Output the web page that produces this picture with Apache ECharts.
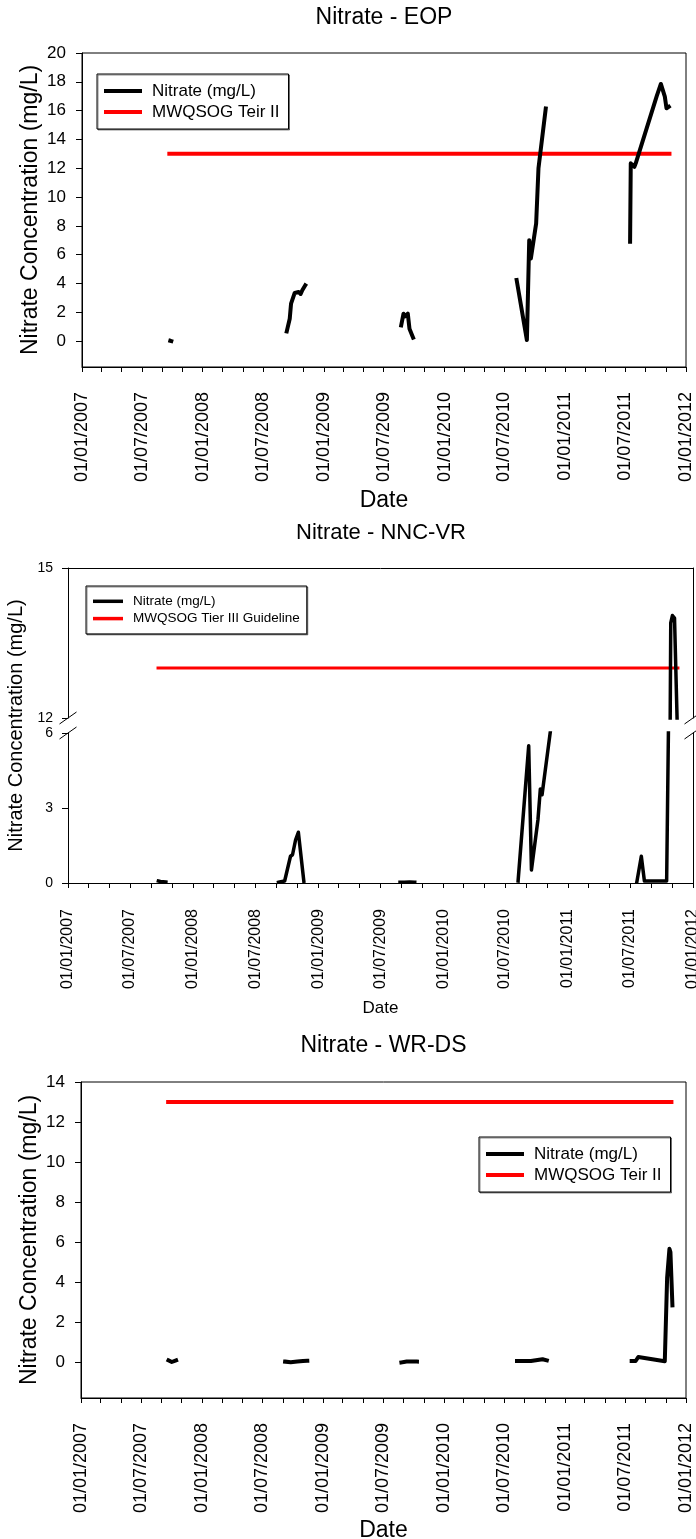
<!DOCTYPE html>
<html>
<head>
<meta charset="utf-8">
<script src="https://cdn.jsdelivr.net/npm/echarts@6/dist/echarts.min.js"></script>
<style>
  html, body { margin: 0; padding: 0; background: #fff; }
  #chart { width: 696px; height: 1539px; }
</style>
</head>
<body>
<div id="chart"></div>
<script>
const FONT = '"Liberation Sans", Arial, sans-serif';

// shared date axis
const xStart = '2007-01-01';
const xEnd = '2012-01-01';
const xTickDates = ['2007-01-01', '2007-07-01', '2008-01-01', '2008-07-01', '2009-01-01', '2009-07-01',
    '2010-01-01', '2010-07-01', '2011-01-01', '2011-07-01', '2012-01-01'];
const xTickLabels = ['01/01/2007', '01/07/2007', '01/01/2008', '01/07/2008', '01/01/2009', '01/07/2009',
    '01/01/2010', '01/07/2010', '01/01/2011', '01/07/2011', '01/01/2012'];

// y ticks
const eopYTicks = [0, 2, 4, 6, 8, 10, 12, 14, 16, 18, 20];
const nncUpperTicks = [12, 15];
const nncLowerTicks = [0, 3, 6];
const wrYTicks = [0, 2, 4, 6, 8, 10, 12, 14];

const guideline = 13;

// Nitrate - EOP (one list per sampling season)
const eopDates = [
    ['2007-09-25', '2007-09-28'],
    ['2008-09-11', '2008-09-20', '2008-09-24', '2008-09-28', '2008-10-05', '2008-10-17', '2008-10-23', '2008-10-28', '2008-11-02', '2008-11-06'],
    ['2009-08-23', '2009-08-30', '2009-09-04', '2009-09-12', '2009-09-17', '2009-09-28'],
    ['2010-08-07', '2010-09-07', '2010-09-14', '2010-09-19', '2010-10-05', '2010-10-12', '2010-11-03'],
    ['2011-07-16', '2011-07-18', '2011-07-29', '2011-08-02', '2011-10-04', '2011-10-17', '2011-10-29', '2011-11-03', '2011-11-10'],
];
const eopValues = [
    [0.02, 0.0],
    [0.67, 1.55, 2.6, 2.48, 3.34, 3.41, 3.27, 3.53, 3.48, 3.87],
    [1.09, 1.9, 1.72, 1.9, 0.86, 0.23],
    [4.24, 0.07, 7.0, 5.74, 8.17, 12.0, 16.15],
    [6.9, 12.34, 12.1, 12.34, 16.97, 17.85, 16.97, 16.16, 16.27],
];
const eopGuideDates = ['2007-09-22', '2011-11-12'];

// Nitrate - NNC-VR
const nncDates = [
    ['2007-09-22', '2007-09-28', '2007-10-14'],
    ['2008-09-07', '2008-09-25', '2008-10-12', '2008-10-18', '2008-10-27', '2008-11-04', '2008-11-20'],
    ['2009-08-28', '2009-09-10', '2009-09-25', '2009-10-10'],
    ['2010-08-08', '2010-09-08', '2010-09-16', '2010-10-05', '2010-10-12', '2010-10-17', '2010-11-13'],
    ['2011-07-21', '2011-08-03', '2011-08-12', '2011-10-16', '2011-10-28', '2011-11-02', '2011-11-08', '2011-11-21'],
];
const nncValues = [
    [0.08, 0.06, 0.04],
    [0.03, 0.08, 1.07, 1.13, 1.73, 2.03, 0.07],
    [0.03, 0.03, 0.04, 0.03],
    [0.08, 5.49, 0.52, 2.53, 3.76, 3.53, 6.35],
    [0.05, 1.07, 0.08, 0.08, 13.9, 14.05, 14.0, 10.5],
];
const nncGuideDates = ['2007-09-21', '2011-11-18'];

// Nitrate - WR-DS
const wrDates = [
    ['2007-09-22', '2007-10-02', '2007-10-15'],
    ['2008-09-08', '2008-09-25', '2008-10-15', '2008-11-01', '2008-11-14'],
    ['2009-08-25', '2009-09-10', '2009-09-25', '2009-10-11'],
    ['2010-08-09', '2010-09-01', '2010-09-20', '2010-10-10', '2010-10-25', '2010-11-07'],
    ['2011-07-21', '2011-08-02', '2011-08-10', '2011-10-29', '2011-11-05', '2011-11-12', '2011-11-15', '2011-11-21'],
];
const wrValues = [
    [0.08, 0.0, 0.08],
    [0.02, -0.01, 0.02, 0.05, 0.06],
    [-0.02, 0.02, 0.03, 0.02],
    [0.05, 0.05, 0.05, 0.1, 0.14, 0.08],
    [0.05, 0.05, 0.25, 0.04, 4.2, 5.66, 5.5, 2.83],
];
const wrGuideDates = ['2007-09-21', '2011-11-18'];

const ts = s => {
    const [y, m, d] = s.split('-').map(Number);
    return new Date(y, m - 1, d).getTime();
};
const xTickTs = xTickDates.map(ts);
// small ticks every two months
const xMinorTicks = [];
for (let y = 2007; y <= 2011; y++) {
    for (let m = 0; m < 12; m += 2) xMinorTicks.push(new Date(y, m, 1).getTime());
}
xMinorTicks.push(ts(xEnd));

const seasons = (dates, values) => {
    const out = [];
    dates.forEach((seg, i) => {
        if (i > 0) out.push([ts(seg[0]) - 86400000, '-']);
        seg.forEach((d, j) => out.push([ts(d), values[i][j]]));
    });
    return out;
};
const guide = dates => dates.map(d => [ts(d), guideline]);

// dates are kept as timestamps on a plain value axis
const dateAxis = (gridIndex, o) => ({
    type: 'value',
    gridIndex,
    min: ts(xStart),
    max: ts(xEnd),
    position: o.position || 'bottom',
    axisLine: { show: true, onZero: false, lineStyle: { color: '#000', width: 1 } },
    axisTick: { show: o.labels, customValues: xMinorTicks, length: 5, lineStyle: { color: '#000' } },
    axisLabel: {
        show: o.labels,
        customValues: xTickTs,
        rotate: 90,
        margin: o.margin,
        color: '#000',
        fontSize: o.fontSize,
        fontFamily: FONT,
        formatter: v => xTickLabels[xTickTs.indexOf(v)] || '',
    },
    splitLine: { show: false },
    name: o.labels ? 'Date' : '',
    nameLocation: 'middle',
    nameGap: o.nameGap,
    nameMoveOverlap: false,
    nameTextStyle: { color: '#000', fontSize: o.nameSize, fontFamily: FONT },
});

const valueAxis = (gridIndex, o) => ({
    type: 'value',
    gridIndex,
    min: o.min,
    max: o.max,
    position: o.position || 'left',
    axisLine: { show: true, onZero: false, lineStyle: { color: '#000', width: 1 } },
    axisTick: { show: !!o.ticks, customValues: o.ticks, length: 6, lineStyle: { color: '#000' } },
    axisLabel: {
        show: !!o.ticks,
        customValues: o.ticks,
        margin: o.margin,
        color: '#000',
        fontSize: o.fontSize,
        fontFamily: FONT,
    },
    splitLine: { show: false },
    name: o.name || '',
    nameLocation: 'middle',
    nameGap: o.nameGap,
    nameMoveOverlap: false,
    nameTextStyle: { color: '#000', fontSize: o.nameSize, fontFamily: FONT },
});

const lineSeries = (name, color, width, x, y, data, z) => ({
    name,
    type: 'line',
    xAxisIndex: x,
    yAxisIndex: y,
    data,
    symbol: 'none',
    showSymbol: false,
    connectNulls: false,
    z,
    itemStyle: { color },
    lineStyle: { color, width, cap: 'square', join: 'round' },
    emphasis: { disabled: true },
    animation: false,
});

const legendBox = (left, top, o) => ({
    orient: 'vertical',
    left,
    top,
    data: o.data,
    icon: 'rect',
    itemWidth: o.itemWidth,
    itemHeight: o.itemHeight,
    itemGap: o.itemGap,
    padding: o.padding,
    backgroundColor: '#fff',
    borderColor: '#000',
    borderWidth: 1,
    borderRadius: 0,
    shadowColor: 'rgba(0,0,0,0.45)',
    shadowOffsetX: 1,
    shadowOffsetY: 1,
    selectedMode: false,
    textStyle: { color: '#000', fontSize: o.fontSize, lineHeight: o.lineHeight, fontFamily: FONT, padding: [0, 0, 0, 5] },
});

const titleText = (text, x, y, size) => ({
    type: 'text', x, y, silent: true,
    style: { text, fill: '#000', fontSize: size, fontFamily: FONT, align: 'center', verticalAlign: 'middle' },
});
const breakMark = (x, y) => ({
    type: 'line', silent: true,
    shape: { x1: x - 8.5, y1: y + 6, x2: x + 8.5, y2: y - 6 },
    style: { stroke: '#000', lineWidth: 1 },
});

// chart 2 (broken axis) layout
const g2 = { left: 68, width: 625, upperTop: 568, upperH: 150, lowerTop: 733, lowerH: 150 };

const chart = echarts.init(document.getElementById('chart'), null, { renderer: 'canvas' });

const option = {
    backgroundColor: '#fff',
    animation: false,
    grid: [
        { left: 82, top: 53, width: 604, height: 314, show: true, borderColor: '#000', borderWidth: 1, backgroundColor: 'transparent', containLabel: false, outerBoundsMode: 'none' },
        { left: g2.left, top: g2.upperTop, width: g2.width, height: g2.upperH, containLabel: false, outerBoundsMode: 'none' },
        { left: g2.left, top: g2.lowerTop, width: g2.width, height: g2.lowerH, containLabel: false, outerBoundsMode: 'none' },
        { left: 81, top: 1082, width: 605, height: 316, show: true, borderColor: '#000', borderWidth: 1, backgroundColor: 'transparent', containLabel: false, outerBoundsMode: 'none' },
    ],
    xAxis: [
        dateAxis(0, { labels: true, margin: 25, fontSize: 18, nameGap: 122, nameSize: 23 }),
        dateAxis(1, { labels: false, position: 'top' }),
        dateAxis(2, { labels: true, margin: 26, fontSize: 16, nameGap: 117, nameSize: 17 }),
        dateAxis(3, { labels: true, margin: 25, fontSize: 18, nameGap: 121, nameSize: 23 }),
    ],
    yAxis: [
        valueAxis(0, { min: -1.8, max: 20, ticks: eopYTicks, margin: 16, fontSize: 17, name: 'Nitrate Concentration (mg/L)', nameGap: 40, nameSize: 23 }),
        valueAxis(1, { min: 12, max: 15, ticks: nncUpperTicks, margin: 15, fontSize: 14 }),
        valueAxis(1, { min: 12, max: 15, position: 'right' }),
        valueAxis(2, { min: 0, max: 6, ticks: nncLowerTicks, margin: 15, fontSize: 14 }),
        valueAxis(2, { min: 0, max: 6, position: 'right' }),
        valueAxis(3, { min: -1.8, max: 14, ticks: wrYTicks, margin: 16, fontSize: 17, name: 'Nitrate Concentration (mg/L)', nameGap: 40, nameSize: 23 }),
    ],
    legend: [
        legendBox(97, 74, { data: ['Nitrate (mg/L)', 'MWQSOG Teir II'], itemWidth: 38, itemHeight: 4, itemGap: 2, padding: [7.5, 9, 7.5, 7], fontSize: 17, lineHeight: 19 }),
        legendBox(86, 586, { data: ['Nitrate (mg/L)', 'MWQSOG Tier III Guideline'], itemWidth: 30, itemHeight: 3.5, itemGap: 2.3, padding: [7.8, 7, 7.8, 7], fontSize: 13.5, lineHeight: 15 }),
        legendBox(479, 1137, { data: ['Nitrate (mg/L)', 'MWQSOG Teir II'], itemWidth: 38, itemHeight: 4, itemGap: 2, padding: [7.5, 9, 7.5, 7], fontSize: 17, lineHeight: 19 }),
    ],
    graphic: [
        titleText('Nitrate - EOP', 384, 18, 23),
        titleText('Nitrate - NNC-VR', 381, 533, 22),
        titleText('Nitrate - WR-DS', 383.5, 1046, 23),
        {
            type: 'text', x: 16, y: (g2.upperTop + g2.lowerTop + g2.lowerH) / 2, rotation: Math.PI / 2, silent: true,
            style: { text: 'Nitrate Concentration (mg/L)', fill: '#000', fontSize: 20, fontFamily: FONT, align: 'center', verticalAlign: 'middle' },
        },
        breakMark(g2.left, g2.upperTop + g2.upperH),
        breakMark(g2.left, g2.lowerTop),
        breakMark(g2.left + g2.width, g2.upperTop + g2.upperH),
        breakMark(g2.left + g2.width, g2.lowerTop),
    ],
    series: [
        lineSeries('MWQSOG Teir II', '#ff0000', 4, 0, 0, guide(eopGuideDates), 2),
        lineSeries('Nitrate (mg/L)', '#000000', 4, 0, 0, seasons(eopDates, eopValues), 3),
        lineSeries('MWQSOG Tier III Guideline', '#ff0000', 3, 1, 1, guide(nncGuideDates), 2),
        lineSeries('Nitrate (mg/L)', '#000000', 3.5, 1, 1, seasons(nncDates, nncValues), 3),
        lineSeries('Nitrate (mg/L)', '#000000', 3.5, 2, 3, seasons(nncDates, nncValues), 3),
        lineSeries('MWQSOG Teir II', '#ff0000', 4, 3, 5, guide(wrGuideDates), 2),
        lineSeries('Nitrate (mg/L)', '#000000', 4, 3, 5, seasons(wrDates, wrValues), 3),
    ],
};

chart.setOption(option);
</script>
</body>
</html>
